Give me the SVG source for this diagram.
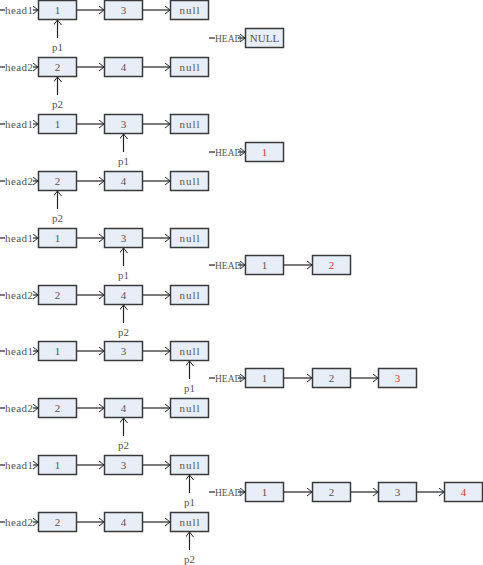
<svg xmlns="http://www.w3.org/2000/svg" width="483" height="565" viewBox="0 0 483 565">
<style>
.b{fill:#E8EEF8;stroke:#3a3a3a;stroke-width:1.5}
.t{font-family:"Liberation Serif",serif;font-size:11px;fill:#555;text-anchor:middle}
.n{letter-spacing:1px}
.r{fill:#f03030}
.l{font-family:"Liberation Serif",serif;font-size:11px;fill:#555}
.h{font-family:"Liberation Serif",serif;font-size:9.5px;fill:#555}
.c{stroke:#222;stroke-width:1.2;fill:none}
.ca{stroke:#222;stroke-width:1.2;fill:none;marker-end:url(#a)}
</style>
<defs>
<marker id="a" markerWidth="8" markerHeight="10" refX="6" refY="4" orient="auto" markerUnits="userSpaceOnUse"><path d="M1,0 L6,4 L1,8" fill="none" stroke="#222" stroke-width="1"/></marker>
</defs>
<rect width="483" height="565" fill="#fff"/>
<g id="connectors">
<path class="c" d="M0,10H5"/><path class="ca" d="M33,10H38"/><text class="l" x="5" y="14" textLength="28">head1</text>
<path class="ca" d="M76,10H104"/><path class="ca" d="M142,10H170"/>
<path class="c" d="M0,67H5"/><path class="ca" d="M33,67H38"/><text class="l" x="5" y="71" textLength="28">head2</text>
<path class="ca" d="M76,67H104"/><path class="ca" d="M142,67H170"/>
<path class="ca" d="M57.5,38V20"/><text class="t" x="57.5" y="51">p1</text>
<path class="ca" d="M57.5,95V77"/><text class="t" x="57.5" y="108">p2</text>
<path class="c" d="M209,38H215"/><path class="ca" d="M238,38H245"/><text class="h" x="215" y="41.5">HEAD</text>
<path class="c" d="M0,124H5"/><path class="ca" d="M33,124H38"/><text class="l" x="5" y="128" textLength="28">head1</text>
<path class="ca" d="M76,124H104"/><path class="ca" d="M142,124H170"/>
<path class="c" d="M0,181H5"/><path class="ca" d="M33,181H38"/><text class="l" x="5" y="185" textLength="28">head2</text>
<path class="ca" d="M76,181H104"/><path class="ca" d="M142,181H170"/>
<path class="ca" d="M123.5,152V134"/><text class="t" x="123.5" y="165">p1</text>
<path class="ca" d="M57.5,209V191"/><text class="t" x="57.5" y="222">p2</text>
<path class="c" d="M209,152H215"/><path class="ca" d="M238,152H245"/><text class="h" x="215" y="155.5">HEAD</text>
<path class="c" d="M0,238H5"/><path class="ca" d="M33,238H38"/><text class="l" x="5" y="242" textLength="28">head1</text>
<path class="ca" d="M76,238H104"/><path class="ca" d="M142,238H170"/>
<path class="c" d="M0,295H5"/><path class="ca" d="M33,295H38"/><text class="l" x="5" y="299" textLength="28">head2</text>
<path class="ca" d="M76,295H104"/><path class="ca" d="M142,295H170"/>
<path class="ca" d="M123.5,266V248"/><text class="t" x="123.5" y="279">p1</text>
<path class="ca" d="M123.5,323V305"/><text class="t" x="123.5" y="336">p2</text>
<path class="c" d="M209,265H215"/><path class="ca" d="M238,265H245"/><text class="h" x="215" y="268.5">HEAD</text>
<path class="ca" d="M284,265H312"/>
<path class="c" d="M0,351H5"/><path class="ca" d="M33,351H38"/><text class="l" x="5" y="355" textLength="28">head1</text>
<path class="ca" d="M76,351H104"/><path class="ca" d="M142,351H170"/>
<path class="c" d="M0,408H5"/><path class="ca" d="M33,408H38"/><text class="l" x="5" y="412" textLength="28">head2</text>
<path class="ca" d="M76,408H104"/><path class="ca" d="M142,408H170"/>
<path class="ca" d="M189.5,379V361"/><text class="t" x="189.5" y="392">p1</text>
<path class="ca" d="M123.5,436V418"/><text class="t" x="123.5" y="449">p2</text>
<path class="c" d="M209,378H215"/><path class="ca" d="M238,378H245"/><text class="h" x="215" y="381.5">HEAD</text>
<path class="ca" d="M284,378H312"/><path class="ca" d="M350,378H378"/>
<path class="c" d="M0,465H5"/><path class="ca" d="M33,465H38"/><text class="l" x="5" y="469" textLength="28">head1</text>
<path class="ca" d="M76,465H104"/><path class="ca" d="M142,465H170"/>
<path class="c" d="M0,522H5"/><path class="ca" d="M33,522H38"/><text class="l" x="5" y="526" textLength="28">head2</text>
<path class="ca" d="M76,522H104"/><path class="ca" d="M142,522H170"/>
<path class="ca" d="M189.5,493V475"/><text class="t" x="189.5" y="506">p1</text>
<path class="ca" d="M189.5,550V532"/><text class="t" x="189.5" y="563">p2</text>
<path class="c" d="M209,492H215"/><path class="ca" d="M238,492H245"/><text class="h" x="215" y="495.5">HEAD</text>
<path class="ca" d="M284,492H312"/><path class="ca" d="M350,492H378"/><path class="ca" d="M416,492H444"/>
</g>
<g id="p0a1"><rect class="b" x="38.5" y="0.5" width="38" height="19"/><text class="t" x="57.5" y="14">1</text></g>
<g id="p0a3"><rect class="b" x="104.5" y="0.5" width="38" height="19"/><text class="t" x="123.5" y="14">3</text></g>
<g id="p0an"><rect class="b" x="170.5" y="0.5" width="38" height="19"/><text class="t n" x="190" y="14">null</text></g>
<g id="p0b2"><rect class="b" x="38.5" y="57.5" width="38" height="19"/><text class="t" x="57.5" y="71">2</text></g>
<g id="p0b4"><rect class="b" x="104.5" y="57.5" width="38" height="19"/><text class="t" x="123.5" y="71">4</text></g>
<g id="p0bn"><rect class="b" x="170.5" y="57.5" width="38" height="19"/><text class="t n" x="190" y="71">null</text></g>
<g id="r0n"><rect class="b" x="245.5" y="28.5" width="38" height="19"/><text class="t" x="264.5" y="42" font-size="10">NULL</text></g>
<g id="p1a1"><rect class="b" x="38.5" y="114.5" width="38" height="19"/><text class="t" x="57.5" y="128">1</text></g>
<g id="p1a3"><rect class="b" x="104.5" y="114.5" width="38" height="19"/><text class="t" x="123.5" y="128">3</text></g>
<g id="p1an"><rect class="b" x="170.5" y="114.5" width="38" height="19"/><text class="t n" x="190" y="128">null</text></g>
<g id="p1b2"><rect class="b" x="38.5" y="171.5" width="38" height="19"/><text class="t" x="57.5" y="185">2</text></g>
<g id="p1b4"><rect class="b" x="104.5" y="171.5" width="38" height="19"/><text class="t" x="123.5" y="185">4</text></g>
<g id="p1bn"><rect class="b" x="170.5" y="171.5" width="38" height="19"/><text class="t n" x="190" y="185">null</text></g>
<g id="r1a"><rect class="b" x="245.5" y="142.5" width="38" height="19"/><text class="t r" x="264.5" y="156">1</text></g>
<g id="p2a1"><rect class="b" x="38.5" y="228.5" width="38" height="19"/><text class="t" x="57.5" y="242">1</text></g>
<g id="p2a3"><rect class="b" x="104.5" y="228.5" width="38" height="19"/><text class="t" x="123.5" y="242">3</text></g>
<g id="p2an"><rect class="b" x="170.5" y="228.5" width="38" height="19"/><text class="t n" x="190" y="242">null</text></g>
<g id="p2b2"><rect class="b" x="38.5" y="285.5" width="38" height="19"/><text class="t" x="57.5" y="299">2</text></g>
<g id="p2b4"><rect class="b" x="104.5" y="285.5" width="38" height="19"/><text class="t" x="123.5" y="299">4</text></g>
<g id="p2bn"><rect class="b" x="170.5" y="285.5" width="38" height="19"/><text class="t n" x="190" y="299">null</text></g>
<g id="r2a"><rect class="b" x="245.5" y="255.5" width="38" height="19"/><text class="t" x="264.5" y="269">1</text></g>
<g id="r2b"><rect class="b" x="312.5" y="255.5" width="38" height="19"/><text class="t r" x="331.5" y="269">2</text></g>
<g id="p3a1"><rect class="b" x="38.5" y="341.5" width="38" height="19"/><text class="t" x="57.5" y="355">1</text></g>
<g id="p3a3"><rect class="b" x="104.5" y="341.5" width="38" height="19"/><text class="t" x="123.5" y="355">3</text></g>
<g id="p3an"><rect class="b" x="170.5" y="341.5" width="38" height="19"/><text class="t n" x="190" y="355">null</text></g>
<g id="p3b2"><rect class="b" x="38.5" y="398.5" width="38" height="19"/><text class="t" x="57.5" y="412">2</text></g>
<g id="p3b4"><rect class="b" x="104.5" y="398.5" width="38" height="19"/><text class="t" x="123.5" y="412">4</text></g>
<g id="p3bn"><rect class="b" x="170.5" y="398.5" width="38" height="19"/><text class="t n" x="190" y="412">null</text></g>
<g id="r3a"><rect class="b" x="245.5" y="368.5" width="38" height="19"/><text class="t" x="264.5" y="382">1</text></g>
<g id="r3b"><rect class="b" x="312.5" y="368.5" width="38" height="19"/><text class="t" x="331.5" y="382">2</text></g>
<g id="r3c"><rect class="b" x="378.5" y="368.5" width="38" height="19"/><text class="t r" x="397.5" y="382">3</text></g>
<g id="p4a1"><rect class="b" x="38.5" y="455.5" width="38" height="19"/><text class="t" x="57.5" y="469">1</text></g>
<g id="p4a3"><rect class="b" x="104.5" y="455.5" width="38" height="19"/><text class="t" x="123.5" y="469">3</text></g>
<g id="p4an"><rect class="b" x="170.5" y="455.5" width="38" height="19"/><text class="t n" x="190" y="469">null</text></g>
<g id="p4b2"><rect class="b" x="38.5" y="512.5" width="38" height="19"/><text class="t" x="57.5" y="526">2</text></g>
<g id="p4b4"><rect class="b" x="104.5" y="512.5" width="38" height="19"/><text class="t" x="123.5" y="526">4</text></g>
<g id="p4bn"><rect class="b" x="170.5" y="512.5" width="38" height="19"/><text class="t n" x="190" y="526">null</text></g>
<g id="r4a"><rect class="b" x="245.5" y="482.5" width="38" height="19"/><text class="t" x="264.5" y="496">1</text></g>
<g id="r4b"><rect class="b" x="312.5" y="482.5" width="38" height="19"/><text class="t" x="331.5" y="496">2</text></g>
<g id="r4c"><rect class="b" x="378.5" y="482.5" width="38" height="19"/><text class="t" x="397.5" y="496">3</text></g>
<g id="r4d"><rect class="b" x="444.5" y="482.5" width="38" height="19"/><text class="t r" x="463.5" y="496">4</text></g>
</svg>
